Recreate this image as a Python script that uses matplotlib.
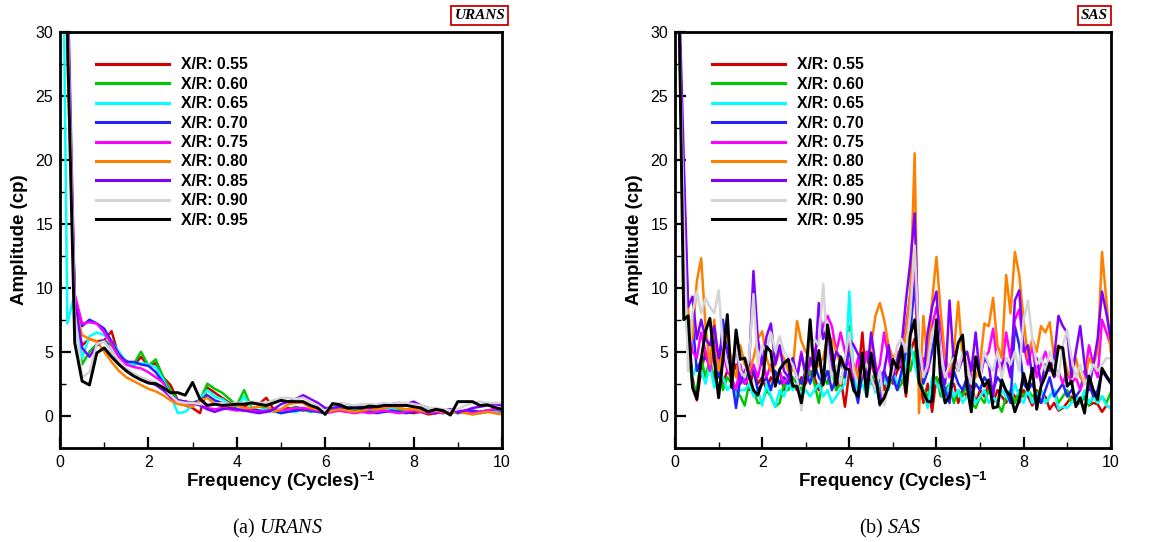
import numpy as np
import matplotlib
matplotlib.use("Agg")
import matplotlib.pyplot as plt

plt.rcParams['font.family'] = ['Liberation Sans', 'DejaVu Sans']
plt.rcParams['mathtext.fontset'] = 'custom'
plt.rcParams['mathtext.rm'] = 'Liberation Serif'
plt.rcParams['mathtext.it'] = 'Liberation Serif:italic'
plt.rcParams['mathtext.bf'] = 'Liberation Sans:bold'

labels = ["X/R: 0.55", "X/R: 0.60", "X/R: 0.65", "X/R: 0.70", "X/R: 0.75",
          "X/R: 0.80", "X/R: 0.85", "X/R: 0.90", "X/R: 0.95"]
colors = ["#d40000", "#00c800", "#00ffff", "#2323ff", "#ff00ff",
          "#ff8000", "#8000ff", "#d4d4d4", "#000000"]

# URANS spectra, bins of 1/6 cycle^-1
urans_055 = [80, 30, 8.0, 5.5, 6.0, 5.8, 5.9, 6.6, 4.6, 4.3,
             3.9, 4.6, 3.9, 4.1, 3.0, 2.4, 1.2, 0.8, 0.6, 0.2,
             2.2, 1.8, 1.4, 1.0, 0.9, 0.7, 1.0, 0.9, 1.4, 0.5,
             0.4, 0.6, 0.5, 0.4, 0.5, 0.4, 0.2, 0.5, 0.4, 0.3,
             0.4, 0.5, 0.3, 0.4, 0.3, 0.4, 0.5, 0.3, 0.2, 0.3,
             0.1, 0.2, 0.3, 0.2, 0.3, 0.4, 0.3, 0.2, 0.3, 0.4, 0.3]
urans_060 = [80, 30, 8.5, 4.0, 5.0, 5.6, 5.9, 5.5, 4.6, 4.2,
             4.0, 5.0, 3.9, 4.4, 3.0, 2.0, 1.2, 0.9, 0.8, 1.2,
             2.5, 2.1, 1.8, 1.3, 0.8, 2.0, 0.6, 0.7, 0.6, 0.5,
             0.3, 0.5, 0.7, 0.5, 0.3, 0.4, 0.2, 0.9, 0.7, 0.5,
             0.4, 0.5, 0.4, 0.5, 0.6, 0.4, 0.5, 0.3, 0.4, 0.3,
             0.2, 0.3, 0.2, 0.3, 0.4, 0.3, 0.2, 0.3, 0.4, 0.3, 0.5]
urans_065 = [60, 7.2, 9.5, 4.5, 6.2, 6.5, 6.3, 5.8, 5.0, 4.2,
             4.0, 4.1, 4.0, 3.8, 2.8, 1.6, 0.2, 0.3, 0.8, 1.3,
             2.0, 1.5, 1.3, 0.9, 0.6, 1.5, 0.5, 0.4, 0.5, 0.3,
             0.2, 0.4, 0.3, 0.5, 0.4, 0.3, 0.2, 0.6, 0.8, 0.7,
             0.5, 0.6, 0.7, 0.5, 0.4, 0.5, 0.6, 0.5, 0.4, 0.3,
             0.4, 0.3, 0.2, 0.3, 0.2, 0.3, 0.1, 0.2, 0.3, 0.4, 0.3]
urans_070 = [80, 30, 9.0, 7.0, 7.5, 7.2, 6.8, 5.8, 4.8, 4.2,
             4.2, 4.0, 3.9, 3.4, 2.6, 1.6, 1.2, 1.1, 1.0, 1.2,
             1.6, 1.2, 1.0, 0.8, 0.5, 0.4, 0.5, 0.4, 0.3, 0.4,
             0.2, 0.3, 0.4, 0.5, 0.4, 0.3, 0.2, 0.4, 0.5, 0.4,
             0.3, 0.4, 0.3, 0.2, 0.3, 0.4, 0.3, 0.2, 0.3, 0.4,
             0.3, 0.2, 0.3, 0.4, 0.2, 0.3, 0.4, 0.3, 0.4, 0.5, 0.4]
urans_075 = [80, 30, 9.5, 7.2, 7.3, 7.2, 6.5, 5.6, 4.6, 4.0,
             3.8, 3.7, 3.4, 3.0, 2.6, 1.4, 1.1, 1.0, 0.9, 0.9,
             0.6, 0.5, 0.6, 0.5, 0.4, 0.5, 0.4, 0.3, 0.4, 0.5,
             0.4, 0.5, 0.6, 0.6, 0.5, 0.4, 0.2, 0.3, 0.4, 0.3,
             0.2, 0.3, 0.2, 0.3, 0.4, 0.3, 0.2, 0.3, 0.4, 0.3,
             0.2, 0.3, 0.2, 0.3, 0.4, 0.3, 0.2, 0.3, 0.4, 0.5, 0.4]
urans_080 = [80, 28, 8.5, 6.3, 6.0, 5.8, 5.0, 4.2, 3.5, 3.0,
             2.7, 2.4, 2.1, 1.9, 1.6, 1.2, 0.9, 0.8, 0.7, 1.2,
             1.4, 0.9, 0.8, 0.7, 0.8, 0.6, 0.6, 0.7, 0.8, 0.3,
             0.5, 0.9, 1.0, 1.0, 0.6, 0.5, 0.3, 0.4, 0.5, 0.4,
             0.3, 0.4, 0.5, 0.5, 0.6, 0.7, 0.6, 0.5, 0.5, 0.4,
             0.3, 0.4, 0.3, 0.2, 0.3, 0.2, 0.1, 0.2, 0.3, 0.2, 0.1]
urans_085 = [80, 35, 9.0, 5.3, 4.6, 5.5, 5.9, 5.0, 4.2, 3.5,
             3.1, 2.9, 2.6, 2.4, 2.0, 1.5, 1.2, 1.1, 1.0, 0.8,
             0.5, 0.3, 0.5, 0.6, 0.5, 0.4, 0.3, 0.2, 0.3, 0.5,
             0.9, 1.1, 1.3, 1.6, 1.3, 1.0, 0.6, 0.6, 0.7, 0.6,
             0.7, 0.7, 0.6, 0.7, 0.8, 0.9, 1.0, 0.9, 1.1, 0.8,
             0.6, 0.5, 0.4, 0.5, 0.3, 0.4, 0.6, 0.7, 0.8, 0.9, 0.8]
urans_090 = [80, 32, 8.0, 3.0, 3.4, 5.6, 5.8, 5.0, 4.3, 3.7,
             3.3, 3.0, 2.8, 2.6, 2.3, 1.6, 1.1, 1.0, 1.0, 0.9,
             0.9, 0.9, 1.0, 0.9, 1.0, 1.0, 1.1, 1.0, 1.0, 1.2,
             1.4, 1.4, 1.3, 1.4, 1.1, 0.8, 0.3, 0.9, 1.0, 0.9,
             0.8, 0.9, 0.9, 0.9, 1.0, 0.9, 1.0, 1.0, 0.9, 0.8,
             0.6, 0.6, 0.5, 0.4, 0.5, 0.8, 1.0, 1.1, 1.0, 1.0, 1.0]
urans_095 = [80, 30, 5.7, 2.7, 2.4, 4.9, 5.3, 4.6, 4.0, 3.5,
             3.1, 2.8, 2.55, 2.5, 2.2, 1.8, 1.8, 1.6, 2.6, 1.3,
             0.8, 0.9, 0.8, 0.85, 0.9, 0.9, 1.0, 0.9, 0.8, 1.0,
             1.2, 1.1, 1.1, 1.1, 0.8, 0.6, 0.1, 0.95, 0.85, 0.6,
             0.6, 0.6, 0.75, 0.7, 0.8, 0.8, 0.8, 0.8, 0.7, 0.6,
             0.3, 0.5, 0.4, 0.05, 1.1, 1.1, 1.1, 0.8, 0.85, 0.65, 0.5]

# SAS spectra, bins of 0.1 cycle^-1
sas_055 = [60, 30, 16, 6.0, 3.0, 1.2, 3.5, 5.0, 4.0, 3.0,
           4.5, 2.5, 3.5, 3.0, 4.0, 2.5, 3.0, 2.0, 3.5, 2.5,
           3.0, 2.0, 3.0, 2.5, 3.5, 2.0, 3.0, 2.5, 2.0, 3.0,
           2.5, 3.5, 3.0, 2.0, 3.0, 2.5, 4.0, 2.0, 3.0, 0.7,
           3.5, 2.5, 3.0, 6.5, 2.0, 3.0, 2.5, 3.5, 2.0, 3.0,
           2.5, 3.5, 4.0, 1.5, 5.0, 6.0, 3.0, 1.0, 2.5, 0.3,
           3.0, 2.5, 1.5, 2.0, 2.5, 1.0, 2.0, 1.5, 2.5, 1.0,
           2.0, 1.5, 2.5, 1.0, 2.0, 1.5, 1.0, 2.0, 1.5, 1.0,
           2.0, 1.5, 0.8, 2.0, 1.0, 1.5, 0.5, 1.0, 0.4, 0.6,
           1.0, 1.5, 0.9, 1.0, 1.5, 0.8, 1.0, 0.9, 0.3, 0.8, 0.6]
sas_060 = [60, 30, 12, 5.0, 2.5, 2.0, 4.5, 3.0, 4.5, 2.5,
           3.5, 2.0, 3.0, 2.5, 2.0, 1.5, 0.8, 2.5, 2.0, 1.0,
           1.0, 2.0, 1.5, 0.7, 1.0, 2.5, 2.0, 3.0, 2.5, 2.0,
           3.0, 3.5, 2.5, 1.0, 3.0, 2.5, 3.5, 2.0, 2.5, 3.5,
           7.0, 2.0, 1.5, 3.0, 5.0, 2.5, 3.5, 2.0, 3.0, 2.5,
           3.0, 2.0, 2.5, 4.5, 3.5, 5.0, 3.0, 2.0, 1.5, 2.5,
           3.0, 1.5, 2.0, 2.5, 1.0, 2.0, 1.5, 2.5, 1.0, 0.6,
           1.5, 1.0, 2.0, 1.5, 1.0, 0.3, 1.5, 2.0, 1.0, 2.0,
           1.5, 2.0, 1.5, 1.8, 2.0, 1.0, 1.5, 2.0, 1.0, 1.5,
           2.0, 1.0, 1.5, 1.0, 1.5, 0.8, 1.5, 1.0, 1.5, 1.0, 1.8]
sas_065 = [60, 30, 10, 6.0, 3.0, 4.0, 3.5, 2.5, 4.0, 2.2,
           3.5, 3.0, 2.0, 2.5, 1.5, 2.0, 2.0, 2.5, 1.5, 2.0,
           0.8, 2.5, 1.5, 0.7, 2.0, 1.5, 2.5, 2.0, 2.5, 1.5,
           2.0, 1.5, 2.0, 2.5, 1.5, 2.0, 1.0, 1.5, 2.0, 2.5,
           9.7, 3.0, 2.0, 2.5, 1.5, 3.0, 1.8, 2.5, 3.0, 2.0,
           3.5, 2.5, 3.0, 4.0, 5.5, 4.0, 2.5, 2.0, 0.6, 3.0,
           2.5, 2.0, 1.0, 2.5, 1.5, 2.0, 1.0, 1.5, 2.0, 1.0,
           1.5, 2.0, 1.0, 1.5, 1.0, 2.0, 1.5, 1.0, 2.5, 1.5,
           1.0, 2.0, 1.0, 1.5, 2.0, 1.0, 1.5, 2.0, 0.5, 0.7,
           0.6, 1.0, 1.5, 1.0, 2.0, 1.0, 1.5, 1.0, 1.5, 0.8, 0.6]
sas_070 = [60, 30, 14, 6.0, 7.5, 3.5, 4.4, 4.5, 4.0, 6.5,
           3.0, 7.5, 5.0, 3.0, 0.6, 3.0, 2.5, 4.0, 3.5, 2.0,
           2.5, 3.0, 2.0, 3.5, 2.5, 3.0, 2.5, 4.0, 3.0, 2.5,
           3.5, 2.5, 4.0, 3.0, 2.5, 3.5, 2.0, 3.0, 4.5, 3.0,
           5.5, 2.5, 1.0, 3.5, 2.5, 3.0, 2.0, 3.0, 3.5, 2.5,
           3.0, 2.0, 3.5, 5.0, 6.5, 10.5, 4.0, 2.5, 3.5, 5.0,
           7.0, 3.5, 2.0, 1.0, 3.5, 2.5, 2.0, 3.0, 1.5, 2.5,
           2.0, 3.0, 2.5, 2.0, 3.0, 2.5, 2.0, 1.0, 7.0, 5.5,
           2.5, 2.0, 2.5, 1.5, 1.0, 2.0, 3.0, 1.5, 2.0, 2.5,
           1.5, 2.0, 1.5, 2.0, 3.5, 2.5, 1.5, 2.0, 3.5, 3.0, 2.5]
sas_075 = [60, 30, 17, 8.0, 5.0, 4.5, 6.5, 5.0, 3.5, 5.5,
           4.0, 5.0, 3.5, 3.0, 2.0, 4.0, 2.5, 3.0, 4.0, 3.0,
           4.5, 3.0, 4.0, 2.5, 3.5, 2.5, 3.0, 4.5, 3.0, 5.0,
           3.0, 4.0, 5.0, 6.0, 7.0, 7.8, 7.0, 5.0, 6.5, 5.0,
           4.0, 3.0, 4.5, 3.0, 5.0, 4.0, 3.0, 4.0, 6.5, 4.5,
           3.0, 5.0, 4.0, 7.0, 9.5, 12.0, 3.0, 4.5, 3.5, 7.0,
           8.5, 7.0, 4.0, 3.0, 5.0, 3.5, 4.5, 4.0, 3.0, 4.5,
           3.5, 4.5, 5.0, 6.8, 4.0, 3.5, 6.5, 4.5, 7.5, 8.3,
           5.5, 4.0, 5.5, 3.0, 4.0, 5.0, 4.0, 3.0, 3.5, 2.5,
           3.5, 2.5, 3.0, 2.0, 3.0, 5.5, 4.0, 3.0, 7.5, 6.5, 5.5]
sas_080 = [60, 30, 18, 8.0, 6.0, 10.5, 12.3, 7.0, 4.0, 7.5,
           3.5, 5.0, 6.5, 4.0, 3.0, 5.5, 4.0, 3.5, 4.5, 6.0,
           6.6, 4.5, 3.5, 4.0, 5.0, 4.5, 3.5, 3.5, 7.4, 5.8,
           5.0, 4.5, 3.5, 4.0, 4.5, 6.2, 6.0, 5.0, 4.0, 4.5,
           5.5, 4.0, 3.0, 4.0, 3.2, 5.5, 7.8, 8.8, 7.5, 5.5,
           4.5, 5.0, 4.5, 6.5, 9.5, 20.5, 0.2, 7.8, 4.0, 9.0,
           12.4, 8.0, 4.5, 3.5, 5.0, 8.9, 4.5, 5.0, 3.5, 3.0,
           4.0, 7.2, 7.0, 9.2, 5.5, 4.5, 11.0, 8.0, 12.8, 11.0,
           7.5, 4.5, 6.0, 5.0, 7.0, 6.5, 7.3, 4.5, 5.5, 5.0,
           3.5, 3.0, 4.5, 3.0, 2.5, 4.5, 4.0, 5.0, 12.8, 9.0, 5.0]
sas_085 = [60, 32, 20, 8.5, 9.3, 6.0, 7.5, 6.0, 5.5, 7.0,
           4.5, 6.5, 5.0, 3.5, 6.0, 2.5, 3.5, 4.0, 11.3, 6.0,
           4.0, 6.2, 7.2, 4.0, 5.5, 3.5, 3.0, 4.5, 3.0, 4.8,
           3.2, 4.5, 3.5, 8.8, 6.0, 7.0, 3.5, 5.0, 4.5, 3.5,
           6.0, 5.5, 4.8, 4.0, 3.0, 6.5, 4.0, 0.8, 3.5, 5.5,
           3.0, 4.5, 5.5, 9.0, 12.0, 15.8, 4.5, 3.0, 6.5, 8.5,
           9.7, 4.0, 2.5, 9.0, 4.0, 3.5, 4.5, 5.0, 3.5, 6.5,
           3.0, 4.5, 4.0, 1.5, 4.3, 4.0, 4.5, 3.0, 9.0, 9.8,
           5.0, 5.5, 3.0, 4.5, 2.5, 4.0, 3.5, 4.5, 7.8, 7.0,
           6.5, 3.0, 5.0, 7.0, 4.0, 2.0, 4.0, 6.0, 9.7, 8.0, 6.0]
sas_090 = [60, 30, 15, 3.5, 8.0, 9.7, 8.0, 9.2, 8.5, 8.0,
           9.8, 5.5, 4.0, 3.0, 5.5, 3.5, 3.0, 4.5, 9.5, 4.0,
           5.5, 5.0, 6.5, 5.0, 6.2, 5.0, 4.5, 4.0, 3.0, 0.4,
           3.5, 5.5, 6.0, 5.5, 10.3, 5.0, 3.0, 4.0, 2.5, 4.5,
           6.5, 3.5, 2.5, 3.5, 4.0, 3.0, 2.0, 3.5, 0.8, 2.5,
           3.5, 5.5, 6.0, 5.0, 8.0, 13.3, 5.5, 3.0, 4.0, 6.5,
           7.5, 4.5, 3.0, 4.0, 4.5, 3.5, 5.0, 4.0, 2.5, 4.0,
           3.0, 5.0, 4.0, 3.5, 5.0, 3.0, 4.5, 4.0, 5.0, 3.5,
           7.5, 9.0, 6.0, 4.0, 4.5, 3.5, 5.0, 4.0, 3.0, 5.5,
           6.7, 4.5, 3.0, 4.0, 2.5, 3.0, 4.0, 3.5, 4.0, 4.5, 4.5]
sas_095 = [60, 30, 7.5, 7.8, 2.2, 1.3, 4.4, 6.6, 7.6, 4.4,
           1.4, 4.4, 7.9, 2.2, 6.7, 4.4, 4.5, 3.1, 2.0, 1.6,
           2.6, 5.4, 5.0, 2.3, 3.6, 4.1, 4.4, 2.3, 2.3, 1.0,
           3.1, 7.5, 3.1, 5.1, 2.4, 7.1, 5.1, 2.4, 4.6, 3.7,
           3.6, 2.0, 1.5, 4.9, 1.5, 4.9, 3.1, 0.9, 1.4, 2.3,
           4.4, 3.7, 5.4, 1.8, 6.3, 7.5, 2.6, 1.8, 1.1, 1.1,
           7.5, 2.6, 1.0, 1.5, 3.9, 5.7, 6.3, 2.3, 0.3, 4.6,
           3.1, 2.3, 2.8, 0.6, 0.7, 2.8, 1.9, 1.6, 0.3, 1.25,
           3.3, 2.0, 3.7, 0.5, 2.3, 3.1, 4.1, 3.1, 5.4, 5.3,
           2.3, 2.7, 0.7, 1.4, 0.2, 3.1, 2.0, 1.25, 3.7, 3.1, 2.6]

urans = [urans_055, urans_060, urans_065, urans_070, urans_075,
         urans_080, urans_085, urans_090, urans_095]
sas = [sas_055, sas_060, sas_065, sas_070, sas_075,
       sas_080, sas_085, sas_090, sas_095]

fig = plt.figure(figsize=(11.49, 5.42), dpi=100)
ax1 = fig.add_axes([0.0522, 0.174, 0.3847, 0.7675])
ax2 = fig.add_axes([0.5875, 0.174, 0.3792, 0.7675])


def draw_panel(ax, series, step, tag_x, tag, leg_x):
    for vals, lab, col in zip(series, labels, colors):
        f = np.arange(len(vals)) * step
        lw = 2.1 if col == "#000000" else 1.8
        ax.plot(f, vals, color=col, lw=lw, label=lab)
    ax.set_xlim(0, 10)
    ax.set_ylim(-2.5, 30)
    ax.set_xticks([0, 2, 4, 6, 8, 10])
    ax.set_xticks([1, 3, 5, 7, 9], minor=True)
    ax.set_yticks([0, 5, 10, 15, 20, 25, 30])
    ax.set_yticks([-2.5, 2.5, 7.5, 12.5, 17.5, 22.5, 27.5], minor=True)
    ax.tick_params(which='major', direction='in', length=8, width=1.6,
                   labelsize=11.5, top=False, right=False, pad=5)
    ax.tick_params(which='minor', direction='in', length=4.5, width=1.0,
                   top=False, right=False)
    for s in ax.spines.values():
        s.set_linewidth(2.0)
    ax.set_xlabel(r'Frequency (Cycles)$^{\mathbf{-1}}$', fontsize=13.5,
                  fontweight='bold', labelpad=0)
    ax.set_ylabel('Amplitude (cp)', fontsize=13.5, fontweight='bold',
                  labelpad=5)
    leg = ax.legend(loc='upper left', bbox_to_anchor=(leg_x, 0.938),
                    frameon=False, borderpad=0, borderaxespad=0,
                    handlelength=4.65, handletextpad=0.8, labelspacing=0.28,
                    prop={'weight': 'bold', 'size': 11.3})
    for h in leg.get_lines():
        h.set_linewidth(2.2)
    ax.text(tag_x, 1.038, tag, transform=ax.transAxes, ha='center',
            va='center', fontsize=11, fontweight='bold', fontstyle='italic',
            family='Liberation Serif',
            bbox=dict(boxstyle='square,pad=0.2', facecolor='white',
                      edgecolor='#cc0000', linewidth=1.3))


draw_panel(ax1, urans, 1 / 6, 0.950, 'URANS', 0.081)
draw_panel(ax2, sas, 0.1, 0.963, 'SAS', 0.084)

fig.text(277 / 1149, 1 - 528 / 542, r'(a) $\it{URANS}$', ha='center',
         va='center', fontsize=14.5, family='Liberation Serif')
fig.text(890 / 1149, 1 - 528 / 542, r'(b) $\it{SAS}$', ha='center',
         va='center', fontsize=14.5, family='Liberation Serif')

fig.savefig('out.png', dpi=100)
